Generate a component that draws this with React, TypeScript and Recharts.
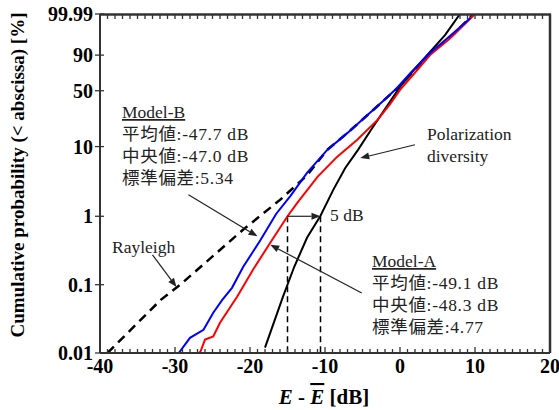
import { ComposedChart, Customized, Line, ReferenceLine, XAxis, YAxis } from "recharts";

// Rayleigh probability paper: y = log10(-ln(1 - P))
const toT = (p: number) => Math.log10(-Math.log(1 - p / 100));

const yTickLabels = ["0.01", "0.1", "1", "10", "50", "90", "99.99"];

// E - Ē [dB] and cumulative probability [%]
const rayleighX = [-39.0, -31.9, -29.3, -20.9, -16.0, -12.4, -9.7, -7, -4, 0, 4, 7, 9.8];
const rayleighP = [0.01, 0.06, 0.1, 0.64, 1.73, 3.9, 9.0, 15.4, 28, 56, 91, 98.9, 99.99];

const modelBX = [-29.5, -28, -26.2, -24.9, -23.7, -22.4, -20.9, -18.6, -16.5, -14.6, -12.4, -9.7, -7, -4, -2.1, -0.4, 1.4, 4, 6.7, 8.8, 9.4];
const modelBP = [0.01, 0.0167, 0.0219, 0.0389, 0.06, 0.09, 0.183, 0.45, 1.09, 1.98, 4.25, 9.0, 15.4, 28, 39.8, 53.2, 71.7, 91.6, 98.8, 99.91, 99.97];

const modelAX = [-26.8, -26.6, -26, -24.9, -24, -21.7, -19.6, -17.3, -15, -13.7, -11, -8.4, -5.7, -3, -1.3, 0, 2.3, 4, 6.7, 10];
const modelAP = [0.01, 0.0105, 0.0157, 0.0175, 0.0277, 0.067, 0.166, 0.41, 1.0, 1.57, 3.72, 7.18, 12.4, 22.8, 35.8, 50.9, 75.2, 90.1, 98.3, 99.99];

const polX = [-18, -15.6, -14.1, -12.4, -10.6, -8.9, -7.3, -5.6, -3.7, -1.8, 0, 2.2, 4, 6, 8];
const polP = [0.012, 0.067, 0.183, 0.485, 1.02, 2.42, 5.0, 9.0, 17.9, 33.1, 54.5, 78.7, 92.3, 98.9, 99.99];

const toSeries = (xs: number[], ps: number[]) => xs.map((x, i) => ({ x, t: toT(ps[i]) }));

const rayleigh = toSeries(rayleighX, rayleighP);
const modelB = toSeries(modelBX, modelBP);
const modelA = toSeries(modelAX, modelAP);
const pol = toSeries(polX, polP);

const yTicks = yTickLabels.map((l) => toT(parseFloat(l)));
const Y_MIN = toT(0.01);
const Y_MAX = toT(99.99);
const X_MIN = -40;
const X_MAX = 20;
const xTicks: number[] = [];
for (let v = X_MIN; v <= X_MAX; v++) xTicks.push(v);

// chart box
const W = 559;
const H = 410;
const MARGIN = { top: 14, right: 9, bottom: 25, left: 40 };
const Y_AXIS_W = 60;
const X_AXIS_H = 32;
const PLOT_L = MARGIN.left + Y_AXIS_W;
const PLOT_R = W - MARGIN.right;
const PLOT_T = MARGIN.top;
const PLOT_B = H - MARGIN.bottom - X_AXIS_H;

const SERIF = "'Liberation Serif', 'Times New Roman', serif";
const ANNO = "'Liberation Serif', 'Noto Sans CJK JP', serif";
const AXIS = "#333";
const M = 10;

function BottomTick(props: any) {
  const { x, y, payload } = props;
  const major = payload.value % 10 === 0;
  const ay = y - M;
  return (
    <g>
      <line x1={x} x2={x} y1={ay} y2={ay - (major ? 6 : 4)} stroke={AXIS} strokeWidth={1.3} />
      {major && (
        <text x={x} y={ay + 20} textAnchor="middle" fontFamily={SERIF} fontWeight="bold" fontSize={20} fill="#000">
          {payload.value}
        </text>
      )}
    </g>
  );
}

function LeftTick(props: any) {
  const { x, y, index } = props;
  const ax = x + M;
  return (
    <g>
      <line x1={ax - 5} x2={ax + 4} y1={y} y2={y} stroke={AXIS} strokeWidth={1.3} />
      <text x={ax - 7} y={y + 7} textAnchor="end" fontFamily={SERIF} fontWeight="bold" fontSize={20} fill="#000">
        {yTickLabels[index]}
      </text>
    </g>
  );
}

function arrow(props: any) {
  const { x1, y1, x2, y2 } = props;
  const dx = x2 - x1;
  const dy = y2 - y1;
  const len = Math.hypot(dx, dy) || 1;
  const ux = dx / len;
  const uy = dy / len;
  const hl = 9;
  const hw = 3.5;
  const bx = x2 - ux * hl;
  const by = y2 - uy * hl;
  return (
    <g>
      <line x1={x1} y1={y1} x2={bx} y2={by} stroke="#222" strokeWidth={1.2} />
      <polygon
        points={`${x2},${y2} ${bx - uy * hw},${by + ux * hw} ${bx + uy * hw},${by - ux * hw}`}
        fill="#222"
      />
    </g>
  );
}

// annotation arrows: [x1, P1, x2, P2]
const arrows = [
  [2.0, 10.6, -5.3, 6.9],
  [-28.2, 2.05, -19.0, 0.51],
  [-5.1, 0.0755, -17.3, 0.384],
  [-33.0, 0.274, -29.8, 0.0925],
  [-15, 1, -10.6, 1],
];

// top and right sides of the box, with the inward top ticks
function Frame() {
  const sx = (v: number) => PLOT_L + ((v - X_MIN) / (X_MAX - X_MIN)) * (PLOT_R - PLOT_L);
  return (
    <svg
      width={W}
      height={H}
      style={{ position: "absolute", left: 0, top: 0, pointerEvents: "none", zIndex: 5 }}
    >
      <line x1={PLOT_L} x2={PLOT_R + 1} y1={PLOT_T + 0.5} y2={PLOT_T + 0.5} stroke={AXIS} strokeWidth={2.5} />
      <line x1={PLOT_R} x2={PLOT_R} y1={PLOT_T} y2={PLOT_B} stroke={AXIS} strokeWidth={2.5} />
      {xTicks.map((v) => (
        <line key={v} x1={sx(v)} x2={sx(v)} y1={PLOT_T} y2={PLOT_T + 5} stroke={AXIS} strokeWidth={1.3} />
      ))}
    </svg>
  );
}

function Annotations() {
  const t = { fontFamily: ANNO, fontSize: 17.5, fill: "#222", letterSpacing: 0.7 };
  return (
    <g>
      <text transform="translate(24,175) rotate(-90)" textAnchor="middle" fontFamily={SERIF} fontWeight="bold" fontSize={19} fill="#000">
        Cumulative probability (&lt; abscissa) [%]
      </text>
      <text x={324} y={404} textAnchor="middle" fontFamily={SERIF} fontWeight="bold" fontSize={21} fill="#000">
        <tspan fontStyle="italic">E</tspan>
        {" - "}
        <tspan fontStyle="italic" style={{ textDecoration: "overline" }}>E</tspan>
        {" [dB]"}
      </text>
      <text x={122} y={118} {...t} letterSpacing={0} style={{ textDecoration: "underline" }}>Model-B</text>
      <text x={122} y={140} {...t}>平均値:-47.7 dB</text>
      <text x={122} y={162} {...t}>中央値:-47.0 dB</text>
      <text x={122} y={184} {...t}>標準偏差:5.34</text>
      <text x={372} y={267} {...t} letterSpacing={0} style={{ textDecoration: "underline" }}>Model-A</text>
      <text x={372} y={289} {...t}>平均値:-49.1 dB</text>
      <text x={372} y={311} {...t}>中央値:-48.3 dB</text>
      <text x={372} y={333} {...t}>標準偏差:4.77</text>
      <text x={427} y={140} {...t} letterSpacing={0}>Polarization</text>
      <text x={427} y={162} {...t} letterSpacing={0}>diversity</text>
      <text x={112} y={253} {...t} letterSpacing={0}>Rayleigh</text>
      <text x={330} y={221} {...t} letterSpacing={0}>5 dB</text>
    </g>
  );
}

export default function App() {
  return (
    <div style={{ position: "fixed", left: 0, top: 0, width: W, height: H, background: "#fff" }}>
      <ComposedChart width={W} height={H} margin={MARGIN}>
        <XAxis
          type="number"
          dataKey="x"
          domain={[X_MIN, X_MAX]}
          ticks={xTicks}
          interval={0}
          tickSize={0}
          tickMargin={M}
          tick={<BottomTick />}
          height={X_AXIS_H}
          axisLine={{ stroke: AXIS, strokeWidth: 2 }}
          allowDataOverflow
        />
        <YAxis
          type="number"
          domain={[Y_MIN, Y_MAX]}
          ticks={yTicks}
          interval={0}
          tickSize={0}
          tickMargin={M}
          tick={<LeftTick />}
          width={Y_AXIS_W}
          axisLine={{ stroke: AXIS, strokeWidth: 2 }}
          allowDataOverflow
        />
        <ReferenceLine segment={[{ x: -15, y: toT(1) }, { x: -15, y: toT(0.01) }]} stroke="#000" strokeWidth={1.5} strokeDasharray="6 4" />
        <ReferenceLine segment={[{ x: -10.6, y: toT(1) }, { x: -10.6, y: toT(0.01) }]} stroke="#000" strokeWidth={1.5} strokeDasharray="6 4" />
        <Line data={rayleigh} dataKey="t" stroke="#000" strokeWidth={2.5} strokeDasharray="9 6" dot={false} isAnimationActive={false} />
        <Line data={pol} dataKey="t" stroke="#000" strokeWidth={2} dot={false} isAnimationActive={false} />
        <Line data={modelA} dataKey="t" stroke="#ff0000" strokeWidth={2} dot={false} isAnimationActive={false} />
        <Line data={modelB} dataKey="t" stroke="#0000ff" strokeWidth={2} dot={false} isAnimationActive={false} />
        {arrows.map((a, i) => (
          <ReferenceLine key={i} segment={[{ x: a[0], y: toT(a[1]) }, { x: a[2], y: toT(a[3]) }]} shape={arrow} />
        ))}
        <Customized component={<Annotations />} />
      </ComposedChart>
      <Frame />
    </div>
  );
}
